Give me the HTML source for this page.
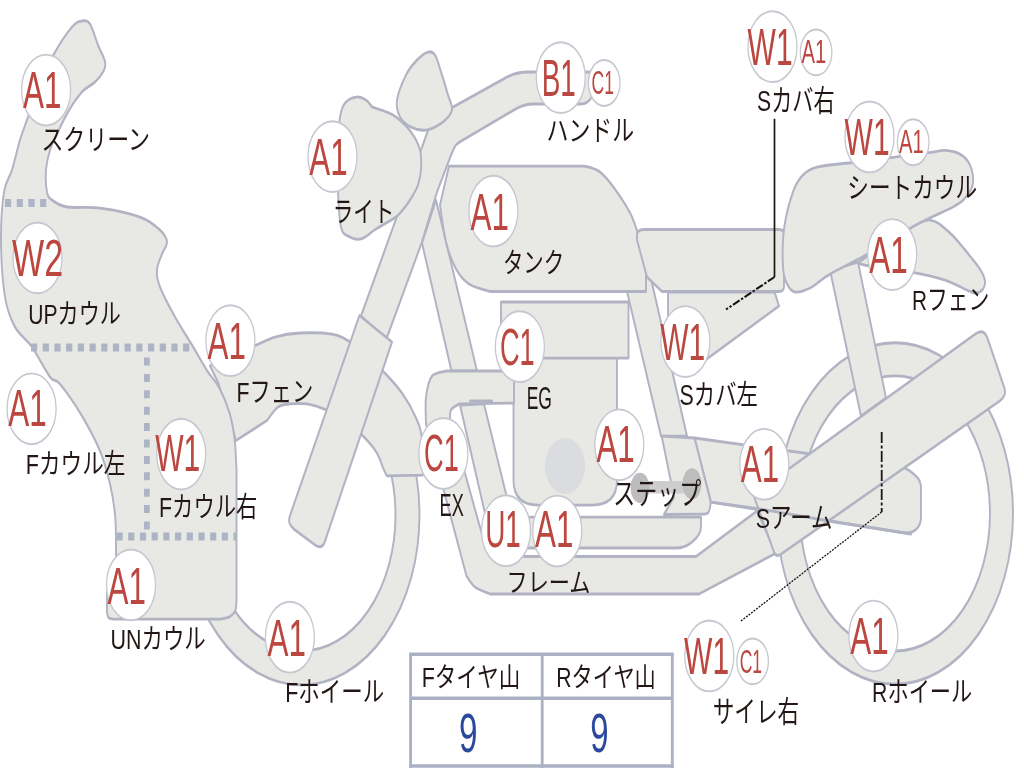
<!DOCTYPE html>
<html><head><meta charset="utf-8"><title>bike</title>
<style>html,body{margin:0;padding:0;background:#fff;overflow:hidden;width:1024px;height:768px;font-family:"Liberation Sans","Noto Sans CJK JP",sans-serif;}svg{display:block}text{font-family:"Liberation Sans","Noto Sans CJK JP",sans-serif}</style>
</head><body>
<svg width="1024" height="768" viewBox="0 0 1024 768">
<defs><filter id="b" x="0" y="0" width="100%" height="100%" filterUnits="userSpaceOnUse"><feGaussianBlur stdDeviation="0.55"/></filter></defs>
<rect width="1024" height="768" fill="#fff"/>
<g filter="url(#b)">
<rect width="1024" height="768" fill="#fff"/>
<path transform="scale(1,1.5)" d="M183.5 343.3A118 113.3 0 1 0 419.5 343.3A118 113.3 0 1 0 183.5 343.3ZM207.5 343.3A94 90.7 0 1 1 395.5 343.3A94 90.7 0 1 1 207.5 343.3Z" fill="#e8e9e5" fill-rule="evenodd" stroke="#b1b3c3" stroke-width="1.9"/>
<path transform="scale(1,1.5)" d="M777 342.3A118 113.7 0 1 0 1013 342.3A118 113.7 0 1 0 777 342.3ZM800 342.3A95 91.7 0 1 1 990 342.3A95 91.7 0 1 1 800 342.3Z" fill="#e8e9e5" fill-rule="evenodd" stroke="#b1b3c3" stroke-width="1.9"/>
<path transform="scale(1,1.5)" d="M218 254.7L210 244C213.7 242.7 224.7 238.2 232 236C239.3 233.8 246.8 232.5 254 230.7C261.2 228.8 267.3 226.1 275 224.7C282.7 223.2 290.5 222.3 300 222C309.5 221.7 324.2 221.9 332 222.7C339.8 223.5 341.5 224.7 347 226.7C352.5 228.7 359.2 231.3 365 234.7C370.8 238 375.8 242.1 382 246.7C388.2 251.2 396.2 256.5 402 262C407.8 267.5 413.7 274.8 417 280C420.3 285.2 421 287.2 422 293.3C423 299.5 422.8 312.8 423 316.7L387 317.3C386.4 316.5 385.3 315.4 383.5 312.7C381.7 309.9 379.9 305 376 301C372.1 297 365.7 292.4 360 288.7C354.3 284.9 347.9 281.3 342 278.7C336.1 276 330.3 274.2 324.5 272.7C318.7 271.1 312.8 269.9 307 269.3C301.2 268.8 294.8 269 290 269.3C285.2 269.7 281.8 269.5 278 271.3C274.2 273.2 268.8 278.8 267 280.3L236 293.7L218 254.7Z" fill="#e8e9e5" stroke="#b1b3c3" stroke-width="1.9" stroke-linejoin="round" stroke-linecap="round" />
<path transform="scale(1,1.5)" d="M236.5 313.3L236.5 400C236.3 401.2 236.5 405.1 235.3 407C234.1 408.9 232.1 410.4 229.5 411.3C226.9 412.3 221.6 412.5 220 412.7L113 412.7C112.2 412.5 109.5 412.5 108.5 411.7C107.5 410.9 107.2 408.6 107 408L107 394.7L116 377.3L116 360C115.8 357.1 116 348.9 115 342.7C114 336.5 112.5 329.7 110 322.7C107.5 315.7 104.7 308.2 100 300.7C95.3 293.1 88.7 284.8 82 277.3C75.3 269.9 65.3 260.3 60 256C54.7 251.7 54.7 255.5 50 251.3C45.3 247.2 37.8 236.9 32 231.3C26.2 225.8 19.5 223.5 15 218C10.5 212.5 7.3 207.5 5 198C2.7 188.5 1.2 173 1 161.3C0.8 149.7 2.2 136 4 128C5.8 120 9.3 119.1 12 113.3C14.7 107.5 17.5 98.9 20 93.3C22.5 87.8 23.7 86.1 27 80C30.3 73.9 35.5 64 40 56.7C44.5 49.3 48.7 42.5 54 36C59.3 29.5 67.3 21.7 72 18C76.7 14.3 79 14.3 82 14C85 13.7 87.3 13.3 90 16C92.7 18.7 95.5 25.8 98 30C100.5 34.2 104.2 38.3 105 41.3C105.8 44.3 104.7 45.8 103 48C101.3 50.2 98.5 52.5 95 54.7C91.5 56.9 86.5 58 82 61.3C77.5 64.7 72.2 69.9 68 74.7C63.8 79.5 59.5 85.8 56.5 90C53.5 94.2 51.8 96.1 50 100C48.2 103.9 46.5 108.7 46 113.3C45.5 118 46 124.7 47 128C48 131.3 48.7 131.7 52 133.3C55.3 135 59 137.1 67 138C75 138.9 87.8 137.5 100 138.7C112.2 139.8 130 142.2 140 144.7C150 147.1 155.5 150.5 160 153.3C164.5 156.1 166.7 158.7 167 161.3C167.3 164 163.7 166.2 162 169.3C160.3 172.5 157.3 176.3 157 180C156.7 183.7 157 186.1 160 191.3C163 196.5 169.7 204.9 175 211.3C180.3 217.8 186.7 224.1 192 230C197.3 235.9 202.4 242.2 207 247C211.6 251.8 215.8 253.9 219.5 258.7C223.2 263.4 227 269.8 229.5 275.3C232 280.9 233.3 285.7 234.5 292C235.7 298.3 236.2 309.8 236.5 313.3Z" fill="#e8e9e5" stroke="#b1b3c3" stroke-width="1.9" stroke-linejoin="round" stroke-linecap="round" />
<line x1="5" y1="203" x2="50" y2="203" stroke="#adb4c5" stroke-width="8" stroke-dasharray="6.2 5.5"/>
<line x1="31" y1="347.5" x2="193" y2="347.5" stroke="#adb4c5" stroke-width="8" stroke-dasharray="6.2 5.5"/>
<line x1="146.9" y1="357.5" x2="146.9" y2="531" stroke="#adb4c5" stroke-width="5.8" stroke-dasharray="8 8.4"/>
<line x1="116.5" y1="536.5" x2="236" y2="536.5" stroke="#adb4c5" stroke-width="8" stroke-dasharray="6.2 5.5"/>
<path transform="scale(1,1.5)" d="M436 133.3L477 247.3L451.5 247.3L422 162Z" fill="#e8e9e5" stroke="#b1b3c3" stroke-width="1.9" stroke-linejoin="round" stroke-linecap="round" />
<path transform="scale(1,1.5)" d="M528 48Q516 48 505.5 51.9L448 73.3L430 83.3L361 210.7L386 226.7L422 161.3L437 128L449.6 105.8Q451 103.3 452.7 100.9L454.3 98.4Q456 96 459.4 94.7L515.4 72.7Q524 69.3 534 69.3L580 69.3Q586 69.3 589.5 66.7L590.4 66Q593 64 593 61.3L593 48Z" fill="#e8e9e5" stroke="#b1b3c3" stroke-width="1.9" stroke-linejoin="round" stroke-linecap="round" />
<path transform="scale(1,1.5)" d="M359.5 210.3L392 228L324.9 361Q322 366.7 314.8 363.1L294.2 352.9Q287 349.3 290 343.7Z" fill="#e8e9e5" stroke="#b1b3c3" stroke-width="1.9" stroke-linejoin="round" stroke-linecap="round" />
<path transform="scale(1,1.5)" d="M372 71.3C374 71.8 380 72.9 384 74C388 75.1 391.5 75.7 396 78C400.5 80.3 407 84.3 411 88C415 91.7 418.3 95.8 420 100C421.7 104.2 421.3 109.5 421 113.3C420.7 117.2 419.3 120.5 418 123.3C416.7 126.1 414.9 127.7 413 130C411.1 132.3 409.1 134.5 406.3 136.9C403.5 139.3 401.2 141.9 396.2 144.5C391.1 147.1 381.9 150.2 376 152.7C370.1 155.1 365.7 158.5 361 159.3C356.3 160.1 351.3 158.7 348 157.3C344.7 156 342.7 156.5 341 151.3C339.3 146.2 338.5 135.2 338 126.7C337.5 118.1 337.7 108.1 338 100C338.3 91.9 338.8 83.2 340 78C341.2 72.8 342.3 70.9 345 68.7C347.7 66.5 352.5 65 356 64.7C359.5 64.3 363.3 65.5 366 66.7C368.7 67.8 371 70.5 372 71.3Z" fill="#e8e9e5" stroke="#b1b3c3" stroke-width="1.9" stroke-linejoin="round" stroke-linecap="round" />
<path transform="scale(1,1.5)" d="M428 34.7C425 35.2 420.7 37.5 417 40C413.3 42.5 409.3 45.5 406 50C402.7 54.5 398 62 397 66.7C396 71.3 397.7 75 400 78C402.3 81 406.7 83.2 411 84.7C415.3 86.1 420.7 87.2 426 86.7C431.3 86.1 438.7 83.5 443 81.3C447.3 79.1 451.2 76.3 452 73.3C452.8 70.3 449.8 67.5 448 63.3C446.2 59.1 443.2 52.5 441 48C438.8 43.5 437.2 38.9 435 36.7C432.8 34.5 431 34.1 428 34.7Z" fill="#e8e9e5" stroke="#b1b3c3" stroke-width="1.9" stroke-linejoin="round" stroke-linecap="round" />
<path transform="scale(1,1.5)" d="M622 180L649 180L687 290.7L661 290.7Z" fill="#e8e9e5" stroke="#b1b3c3" stroke-width="1.9" stroke-linejoin="round" stroke-linecap="round" />
<path transform="scale(1,1.5)" d="M513.5 226.7L617 226.7L617 320Q617 336.7 592 336.7L538.5 336.7Q513.5 336.7 513.5 320Z" fill="#e8e9e5" stroke="#b1b3c3" stroke-width="1.9" stroke-linejoin="round" stroke-linecap="round" />
<path transform="scale(1,1.5)" d="M501 201.3L628.5 201.3L628.5 238.7L501 238.7Z" fill="#e8e9e5" stroke="#b1b3c3" stroke-width="1.9" stroke-linejoin="round" stroke-linecap="round" />
<ellipse transform="scale(1,1.5)" cx="565" cy="310.7" rx="20" ry="18.7" fill="#dbdcdf" stroke="none" stroke-width="0"/>
<path transform="scale(1,1.5)" d="M460 270L484 269.3L511.7 344.7L701 344.7L701 350.7Q701 356.7 692.5 361L690.4 362.1Q684 365.3 676 365.3L493 365.3Z" fill="#e8e9e5" stroke="#b1b3c3" stroke-width="1.9" stroke-linejoin="round" stroke-linecap="round" />
<path transform="scale(1,1.5)" d="M514 247.3L447 247.3C444.5 247.9 435.5 247.8 432 250.7C428.5 253.5 427 259.3 426 264.7C425 270 426 279.7 426 282.7L434 302L450 342.7L466.5 384C467.9 385.2 471.1 389.3 475 391.3C478.9 393.3 487.5 395.2 490 396L699 396L776 368.7L757 340.7L696 371L525 371C520.3 370.5 504 370.1 497 368C490 365.9 485.3 360.2 483 358.7L466 318L450 280C450.2 278.9 449.5 275.1 451 273.3C452.5 271.5 457.7 270 459 269.3L514 268.7L514 247.3Z" fill="#e8e9e5" stroke="#b1b3c3" stroke-width="1.9" stroke-linejoin="round" stroke-linecap="round" />
<path transform="scale(1,1.5)" d="M470 267.3L492 267.3" fill="none" stroke="#b1b3c3" stroke-width="2" stroke-linejoin="round" stroke-linecap="round" />
<path transform="scale(1,1.5)" d="M449 110.7L584 110.7C586.7 111.3 594.5 111.8 600 114.7C605.5 117.5 611.7 123 617 128C622.3 133 627.8 138.3 632 144.7C636.2 151 639.7 159.7 642 166C644.3 172.3 645.3 179.9 646 182.7L646 194.3L490 194.3C486.5 193.5 474.7 191.9 469 189.3C463.3 186.8 459.8 184 456 179.3C452.2 174.7 448.7 168.5 446 161.3C443.3 154.2 441 140.8 440 136.7L449 110.7Z" fill="#e8e9e5" stroke="#b1b3c3" stroke-width="1.9" stroke-linejoin="round" stroke-linecap="round" />
<path transform="scale(1,1.5)" d="M637 156.5Q637 153 644 153L779 153Q784 153 784 156.3L784 191Q784 194.3 779 194.3L662 194.3L647 184.7L637 160Z" fill="#e8e9e5" stroke="#b1b3c3" stroke-width="1.9" stroke-linejoin="round" stroke-linecap="round" />
<path transform="scale(1,1.5)" d="M668 194.7L774.6 194.7L779 204L700 242.7L668 242.7Z" fill="#e8e9e5" stroke="#b1b3c3" stroke-width="1.9" stroke-linejoin="round" stroke-linecap="round" />
<path transform="scale(1,1.5)" d="M830 180L858 174.7L886 265.3L861 277.3Z" fill="#e8e9e5" stroke="#b1b3c3" stroke-width="1.9" stroke-linejoin="round" stroke-linecap="round" />
<path transform="scale(1,1.5)" d="M905 152C909.2 151.1 922.5 146.1 930 146.7C937.5 147.2 943.3 151.3 950 155.3C956.7 159.3 964.9 166.5 970 170.7C975.1 174.8 978 177.2 980.5 180C983 182.8 984.6 185.2 985 187.3C985.4 189.5 984.5 191.3 983 192.7C981.5 194 978.5 195.2 976 195.3C973.5 195.5 973.2 195.1 968 193.7C962.8 192.2 954 188.7 945 186.7C936 184.7 926.7 183.2 914 181.7C901.3 180.1 878.1 178.4 868.8 177.3C859.4 176.3 859.8 175.7 858 175.3L905 152Z" fill="#e8e9e5" stroke="#b1b3c3" stroke-width="1.9" stroke-linejoin="round" stroke-linecap="round" />
<path transform="scale(1,1.5)" d="M793 128C796.2 122 798.8 119.5 803 116.7C807.2 113.9 810 112.7 818 111.3C826 109.9 838.5 109.5 851 108.5C863.5 107.4 880 106.1 893 104.9C906 103.8 920.3 102.5 929 101.8C937.7 101 939.8 100.2 945 100.3C950.2 100.5 955.8 101.1 960 102.7C964.2 104.3 967.8 106.8 970 110C972.2 113.2 973.7 118.5 973 122C972.3 125.5 969.3 128.7 966 131.3C962.7 134 961 135 953 138C945 141 932.2 144.1 918 149.3C903.8 154.5 882.7 163.8 868 169.3C853.3 174.9 839.7 178.9 830 182.7C820.3 186.5 815.8 190 810 192C804.2 194 798.8 195.1 795 194.7C791.2 194.2 789 192.1 787 189.3C785 186.5 783.5 184.1 783 178C782.5 171.9 782.3 161 784 152.7C785.7 144.3 789.8 134 793 128Z" fill="#e8e9e5" stroke="#b1b3c3" stroke-width="1.9" stroke-linejoin="round" stroke-linecap="round" />
<path transform="scale(1,1.5)" d="M694.5 292L897.1 310.6Q905 311.3 911.2 314.7L914.8 316.7Q921 320 921 325.3L921 344.7Q921 350 916 353L916 353Q911 356 903.1 355.1L711 334.7Z" fill="#e8e9e5" stroke="#b1b3c3" stroke-width="1.9" stroke-linejoin="round" stroke-linecap="round" />
<path transform="scale(1,1.5)" d="M753.3 329.7L975 222.8Q983.9 218.5 987.5 225.5L1004.2 258.2Q1007.1 263.9 999.7 267.3L780.9 369.5Q776 371.7 774 368Z" fill="#e8e9e5" stroke="#b1b3c3" stroke-width="1.9" stroke-linejoin="round" stroke-linecap="round" />
<path transform="scale(1,1.5)" d="M711 334.7L758 339.1L835 348L911 356" fill="none" stroke="#b1b3c3" stroke-width="1.9" stroke-linejoin="round" stroke-linecap="round" />
<path transform="scale(1,1.5)" d="M661.7 290.7L694.5 292L710 332.7Q711 335.3 710.1 337.9L709.4 340.1Q708.5 342.7 704.5 342.7L664 343L674 331.3Z" fill="#e8e9e5" stroke="#b1b3c3" stroke-width="1.9" stroke-linejoin="round" stroke-linecap="round" />
<rect x="640" y="481" width="52" height="12.5" fill="#cdcdcd"/>
<ellipse transform="scale(1,1.5)" cx="640" cy="325.2" rx="9.5" ry="10.1" fill="#bdbdbd" stroke="none" stroke-width="0"/>
<ellipse transform="scale(1,1.5)" cx="692" cy="322.5" rx="9.5" ry="10.3" fill="#bdbdbd" stroke="none" stroke-width="0"/>
<path d="M774.5 118.8V277" stroke="#1a1311" stroke-width="1.7" fill="none"/>
<path d="M774.5 277L726 309.5" stroke="#1a1311" stroke-width="2.1" stroke-dasharray="8 1.8 2.4 1.8" fill="none"/>
<path d="M881.7 432V512" stroke="#1a1311" stroke-width="1.8" stroke-dasharray="11 2.5 3 2.5" fill="none"/>
<path d="M881.7 512L741 621" stroke="#1a1311" stroke-width="1.3" stroke-dasharray="2 1.2" fill="none"/>
<ellipse transform="scale(1,1.5)" cx="46.1" cy="60" rx="24.5" ry="23.6" fill="#fff" stroke="#c6c8d1" stroke-width="1.3"/>
<text x="23" y="108.1" font-size="52" fill="#bb463f" textLength="38.4" lengthAdjust="spacingAndGlyphs">A1</text>
<ellipse transform="scale(1,1.5)" cx="37.5" cy="171.9" rx="24.5" ry="23.6" fill="#fff" stroke="#c6c8d1" stroke-width="1.3"/>
<text x="12.1" y="276.1" font-size="52" fill="#bb463f" textLength="51" lengthAdjust="spacingAndGlyphs">W2</text>
<ellipse transform="scale(1,1.5)" cx="230.4" cy="227.1" rx="24.5" ry="23.6" fill="#fff" stroke="#c6c8d1" stroke-width="1.3"/>
<text x="207.6" y="359.1" font-size="52" fill="#bb463f" textLength="38.4" lengthAdjust="spacingAndGlyphs">A1</text>
<ellipse transform="scale(1,1.5)" cx="31.6" cy="272.5" rx="24.5" ry="23.6" fill="#fff" stroke="#c6c8d1" stroke-width="1.3"/>
<text x="8.2" y="426.1" font-size="52" fill="#bb463f" textLength="38.4" lengthAdjust="spacingAndGlyphs">A1</text>
<ellipse transform="scale(1,1.5)" cx="181.2" cy="302.7" rx="24.5" ry="23.6" fill="#fff" stroke="#c6c8d1" stroke-width="1.3"/>
<text x="155.2" y="471.4" font-size="52" fill="#bb463f" textLength="45" lengthAdjust="spacingAndGlyphs">W1</text>
<ellipse transform="scale(1,1.5)" cx="131" cy="389.9" rx="24.5" ry="23.6" fill="#fff" stroke="#c6c8d1" stroke-width="1.3"/>
<text x="107.6" y="603.6" font-size="52" fill="#bb463f" textLength="38.4" lengthAdjust="spacingAndGlyphs">A1</text>
<ellipse transform="scale(1,1.5)" cx="332.5" cy="104.4" rx="24.5" ry="23.6" fill="#fff" stroke="#c6c8d1" stroke-width="1.3"/>
<text x="309.3" y="175.1" font-size="52" fill="#bb463f" textLength="38.4" lengthAdjust="spacingAndGlyphs">A1</text>
<ellipse transform="scale(1,1.5)" cx="443.4" cy="302.3" rx="24.5" ry="23.6" fill="#fff" stroke="#c6c8d1" stroke-width="1.3"/>
<text x="424" y="471.4" font-size="52" fill="#bb463f" textLength="34.8" lengthAdjust="spacingAndGlyphs">C1</text>
<ellipse transform="scale(1,1.5)" cx="289.9" cy="424.8" rx="24.5" ry="23.6" fill="#fff" stroke="#c6c8d1" stroke-width="1.3"/>
<text x="267.6" y="655.6" font-size="52" fill="#bb463f" textLength="38.4" lengthAdjust="spacingAndGlyphs">A1</text>
<ellipse transform="scale(1,1.5)" cx="560.75" cy="51.7" rx="24.5" ry="23.6" fill="#fff" stroke="#c6c8d1" stroke-width="1.3"/>
<text x="541.7" y="95.7" font-size="52" fill="#bb463f" textLength="34.2" lengthAdjust="spacingAndGlyphs">B1</text>
<ellipse transform="scale(1,1.5)" cx="604.2" cy="55.3" rx="15.8" ry="15.3" fill="#fff" stroke="#c6c8d1" stroke-width="1.3"/>
<text x="591.5" y="94.1" font-size="34" fill="#bb463f" textLength="22.4" lengthAdjust="spacingAndGlyphs">C1</text>
<ellipse transform="scale(1,1.5)" cx="772.5" cy="31.1" rx="24.5" ry="23.6" fill="#fff" stroke="#c6c8d1" stroke-width="1.3"/>
<text x="747.6" y="64.5" font-size="52" fill="#bb463f" textLength="45" lengthAdjust="spacingAndGlyphs">W1</text>
<ellipse transform="scale(1,1.5)" cx="816.1" cy="34.9" rx="15.8" ry="15.3" fill="#fff" stroke="#c6c8d1" stroke-width="1.3"/>
<text x="801.5" y="63.3" font-size="34" fill="#bb463f" textLength="24.7" lengthAdjust="spacingAndGlyphs">A1</text>
<ellipse transform="scale(1,1.5)" cx="869.5" cy="91.3" rx="24.5" ry="23.6" fill="#fff" stroke="#c6c8d1" stroke-width="1.3"/>
<text x="844.6" y="155.1" font-size="52" fill="#bb463f" textLength="45" lengthAdjust="spacingAndGlyphs">W1</text>
<ellipse transform="scale(1,1.5)" cx="913.2" cy="94.8" rx="15.8" ry="15.3" fill="#fff" stroke="#c6c8d1" stroke-width="1.3"/>
<text x="899.1" y="153.3" font-size="34" fill="#bb463f" textLength="24.7" lengthAdjust="spacingAndGlyphs">A1</text>
<ellipse transform="scale(1,1.5)" cx="892.2" cy="169.7" rx="24.5" ry="23.6" fill="#fff" stroke="#c6c8d1" stroke-width="1.3"/>
<text x="869.3" y="272.6" font-size="52" fill="#bb463f" textLength="38.4" lengthAdjust="spacingAndGlyphs">A1</text>
<ellipse transform="scale(1,1.5)" cx="493.4" cy="140.7" rx="24.5" ry="23.6" fill="#fff" stroke="#c6c8d1" stroke-width="1.3"/>
<text x="470.5" y="229.5" font-size="52" fill="#bb463f" textLength="38.4" lengthAdjust="spacingAndGlyphs">A1</text>
<ellipse transform="scale(1,1.5)" cx="519.85" cy="231.1" rx="24.5" ry="23.6" fill="#fff" stroke="#c6c8d1" stroke-width="1.3"/>
<text x="499.9" y="365.1" font-size="52" fill="#bb463f" textLength="34.8" lengthAdjust="spacingAndGlyphs">C1</text>
<ellipse transform="scale(1,1.5)" cx="506" cy="353.8" rx="24.5" ry="23.6" fill="#fff" stroke="#c6c8d1" stroke-width="1.3"/>
<text x="485.2" y="547.1" font-size="52" fill="#bb463f" textLength="35.7" lengthAdjust="spacingAndGlyphs">U1</text>
<ellipse transform="scale(1,1.5)" cx="557.3" cy="354" rx="24.5" ry="23.6" fill="#fff" stroke="#c6c8d1" stroke-width="1.3"/>
<text x="535" y="547.4" font-size="52" fill="#bb463f" textLength="38.4" lengthAdjust="spacingAndGlyphs">A1</text>
<ellipse transform="scale(1,1.5)" cx="619.3" cy="296.5" rx="24.5" ry="23.6" fill="#fff" stroke="#c6c8d1" stroke-width="1.3"/>
<text x="596.4" y="462.1" font-size="52" fill="#bb463f" textLength="38.4" lengthAdjust="spacingAndGlyphs">A1</text>
<ellipse transform="scale(1,1.5)" cx="685.4" cy="227.7" rx="24.5" ry="23.6" fill="#fff" stroke="#c6c8d1" stroke-width="1.3"/>
<text x="660.2" y="359.5" font-size="52" fill="#bb463f" textLength="45" lengthAdjust="spacingAndGlyphs">W1</text>
<ellipse transform="scale(1,1.5)" cx="764.3" cy="309.5" rx="24.5" ry="23.6" fill="#fff" stroke="#c6c8d1" stroke-width="1.3"/>
<text x="740.8" y="482.1" font-size="52" fill="#bb463f" textLength="38.4" lengthAdjust="spacingAndGlyphs">A1</text>
<ellipse transform="scale(1,1.5)" cx="709.3" cy="437.3" rx="24.5" ry="23.6" fill="#fff" stroke="#c6c8d1" stroke-width="1.3"/>
<text x="684.1" y="673.9" font-size="52" fill="#bb463f" textLength="45" lengthAdjust="spacingAndGlyphs">W1</text>
<ellipse transform="scale(1,1.5)" cx="752.6" cy="440.9" rx="15.8" ry="15.3" fill="#fff" stroke="#c6c8d1" stroke-width="1.3"/>
<text x="739.7" y="672.6" font-size="34" fill="#bb463f" textLength="22.4" lengthAdjust="spacingAndGlyphs">C1</text>
<ellipse transform="scale(1,1.5)" cx="873.4" cy="424" rx="24.5" ry="23.6" fill="#fff" stroke="#c6c8d1" stroke-width="1.3"/>
<text x="850.2" y="653.9" font-size="52" fill="#bb463f" textLength="38.4" lengthAdjust="spacingAndGlyphs">A1</text>
<text x="41.4" y="150" font-size="28" fill="#231815" textLength="108.6" lengthAdjust="spacingAndGlyphs">スクリーン</text>
<text x="28.3" y="323.5" font-size="28" fill="#231815" textLength="92.6" lengthAdjust="spacingAndGlyphs">UPカウル</text>
<text x="25.8" y="473.5" font-size="28" fill="#231815" textLength="99.6" lengthAdjust="spacingAndGlyphs">Fカウル左</text>
<text x="159" y="516.5" font-size="28" fill="#231815" textLength="98.4" lengthAdjust="spacingAndGlyphs">Fカウル右</text>
<text x="110.5" y="649" font-size="28" fill="#231815" textLength="95.3" lengthAdjust="spacingAndGlyphs">UNカウル</text>
<text x="332.7" y="221.5" font-size="28.6" fill="#231815" textLength="61.5" lengthAdjust="spacingAndGlyphs">ライト</text>
<text x="236.4" y="401.5" font-size="28" fill="#231815" textLength="76.8" lengthAdjust="spacingAndGlyphs">Fフェン</text>
<text x="439.6" y="516.4" font-size="32" fill="#231815" textLength="24.2" lengthAdjust="spacingAndGlyphs">EX</text>
<text x="285.2" y="702" font-size="28" fill="#231815" textLength="99" lengthAdjust="spacingAndGlyphs">Fホイール</text>
<text x="546.5" y="140.5" font-size="28.6" fill="#231815" textLength="87.7" lengthAdjust="spacingAndGlyphs">ハンドル</text>
<text x="502.9" y="273" font-size="28" fill="#231815" textLength="61.4" lengthAdjust="spacingAndGlyphs">タンク</text>
<text x="526.7" y="409.2" font-size="32" fill="#231815" textLength="25.3" lengthAdjust="spacingAndGlyphs">EG</text>
<text x="506.5" y="591.5" font-size="26" fill="#231815" textLength="84" lengthAdjust="spacingAndGlyphs">フレーム</text>
<text x="613.3" y="504" font-size="29.3" fill="#231815" textLength="87.8" lengthAdjust="spacingAndGlyphs">ステップ</text>
<text x="679.6" y="404.5" font-size="28.6" fill="#231815" textLength="78.2" lengthAdjust="spacingAndGlyphs">Sカバ左</text>
<text x="757.1" y="111" font-size="29.2" fill="#231815" textLength="77.5" lengthAdjust="spacingAndGlyphs">Sカバ右</text>
<text x="847.3" y="198" font-size="28.6" fill="#231815" textLength="129.8" lengthAdjust="spacingAndGlyphs">シートカウル</text>
<text x="912" y="309.5" font-size="28" fill="#231815" textLength="77.4" lengthAdjust="spacingAndGlyphs">Rフェン</text>
<text x="755.8" y="527.5" font-size="28" fill="#231815" textLength="76.7" lengthAdjust="spacingAndGlyphs">Sアーム</text>
<text x="712.7" y="721.5" font-size="29.2" fill="#231815" textLength="86.5" lengthAdjust="spacingAndGlyphs">サイレ右</text>
<text x="872.1" y="701.5" font-size="28" fill="#231815" textLength="100.2" lengthAdjust="spacingAndGlyphs">Rホイール</text>
<rect x="410.6" y="654.2" width="261.7" height="113" fill="#fff"/>
<path d="M409.2 654.2H673.7M410.6 698.3H672.3M409.2 766H673.7" stroke="#aab1c4" stroke-width="3.5" fill="none"/>
<path d="M410.6 654.2V768M542.2 654.2V768M672.3 654.2V768" stroke="#aab1c4" stroke-width="2.8" fill="none"/>
<text x="421.7" y="686.7" font-size="27.3" fill="#231815" textLength="98.5" lengthAdjust="spacingAndGlyphs">Fタイヤ山</text>
<text x="556.3" y="686.7" font-size="27.3" fill="#231815" textLength="99.5" lengthAdjust="spacingAndGlyphs">Rタイヤ山</text>
<text x="459" y="752" font-size="55" fill="#2b4a9c" textLength="18.5" lengthAdjust="spacingAndGlyphs">9</text><text x="590.3" y="752" font-size="55" fill="#2b4a9c" textLength="18.3" lengthAdjust="spacingAndGlyphs">9</text>
</g>
</svg>
</body></html>
